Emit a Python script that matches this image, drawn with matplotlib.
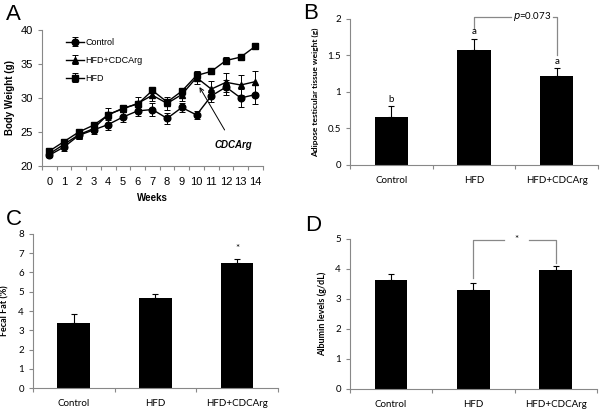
import matplotlib
matplotlib.use("Agg")
import matplotlib.pyplot as plt
import numpy as np

weeks = list(range(15))
control = [21.6, 22.8, 24.5, 25.3, 26.1, 27.2, 28.1, 28.3, 27.0, 28.6, 27.5, 30.3, 31.6, 30.0, 30.5]
control_err = [0.3, 0.6, 0.6, 0.6, 0.8, 0.8, 0.7, 1.0, 0.8, 0.7, 0.6, 0.9, 1.1, 1.3, 1.4]
hfd_cdcarg = [21.8, 23.2, 24.6, 25.5, 27.6, 28.4, 29.2, 30.4, 29.2, 30.5, 33.0, 31.3, 32.3, 31.9, 32.4]
hfd_cdcarg_err = [0.3, 0.5, 0.6, 0.5, 0.9, 0.5, 0.9, 0.9, 1.0, 0.9, 1.0, 1.2, 1.4, 1.5, 1.6]
hfd = [22.2, 23.6, 25.0, 26.0, 27.5, 28.5, 29.1, 31.1, 29.4, 31.0, 33.3, 33.9, 35.5, 36.0, 37.6]
hfd_err = [0.3, 0.3, 0.3, 0.3, 0.5, 0.4, 0.5, 0.4, 0.5, 0.5, 0.5, 0.4, 0.5, 0.4, 0.4]

groups = ["Control", "HFD", "HFD+CDCArg"]
adipose = [0.65, 1.57, 1.22]
adipose_err = [0.15, 0.155, 0.10]
adipose_letters = ["b", "a", "a"]
fecal = [3.39, 4.66, 6.51]
fecal_err = [0.44, 0.23, 0.17]
albumin = [3.63, 3.28, 3.95]
albumin_err = [0.21, 0.25, 0.13]

fig = plt.figure(figsize=(6.0, 4.09), dpi=100)
GRAY = "#888888"
BAR_FONT = "Lato"
LINE_FONT = "Liberation Sans"

def style_axes(ax):
    for s in ["top", "right"]:
        ax.spines[s].set_visible(False)
    for s in ["left", "bottom"]:
        ax.spines[s].set_color(GRAY)
        ax.spines[s].set_linewidth(0.8)
    ax.tick_params(axis="both", direction="out", color=GRAY, length=3, width=0.8)

# Panel A
axA = fig.add_axes([0.070, 0.594, 0.368, 0.333])
style_axes(axA)
kw = dict(color="black", lw=1.0, ms=4.8, capsize=2, elinewidth=0.7, capthick=0.7)
axA.errorbar(weeks, control, yerr=control_err, marker="o", label="Control", **kw)
axA.errorbar(weeks, hfd_cdcarg, yerr=hfd_cdcarg_err, marker="^", label="HFD+CDCArg", **kw)
axA.errorbar(weeks, hfd, yerr=hfd_err, marker="s", label="HFD", **kw)
axA.set_xlim(-0.5, 14.5)
axA.set_ylim(20, 40)
axA.set_yticks([20, 25, 30, 35, 40])
axA.set_xticks(weeks)
axA.set_xticks(np.arange(-0.5, 15, 1), minor=True)
axA.tick_params(axis="x", which="major", length=0, pad=8)
axA.tick_params(axis="x", which="minor", direction="out", color=GRAY, length=3, width=0.8)
for lab in axA.get_xticklabels() + axA.get_yticklabels():
    lab.set_fontfamily(LINE_FONT)
    lab.set_fontsize(8)
axA.set_xlabel("Weeks", fontsize=7, fontweight="bold", family=LINE_FONT, labelpad=4)
axA.set_ylabel("Body Weight (g)", fontsize=7, fontweight="bold", family=LINE_FONT, labelpad=4)
leg = axA.legend(loc="upper left", bbox_to_anchor=(0.07, 1.0), frameon=False,
                 prop={"family": LINE_FONT, "size": 6.5}, handlelength=2.0,
                 labelspacing=1.0, handletextpad=0.2)
axA.annotate("CDCArg", xy=(10.2, 31.6), xytext=(12.5, 23.1),
             fontsize=7, fontweight="bold", fontstyle="italic", family=LINE_FONT,
             ha="center", va="center",
             arrowprops=dict(arrowstyle="->", color="black", lw=0.7,
                             shrinkA=6, shrinkB=0))
fig.text(0.010, 0.99, "A", fontsize=16, family=LINE_FONT, va="top")

def bar_panel(rect, values, errs, ylim, yticks, ylabel, ticklabels_fmt=None, label_size=6.5):
    ax = fig.add_axes(rect)
    style_axes(ax)
    x = np.arange(len(groups))
    ax.bar(x, values, width=0.4, color="black", zorder=2)
    ax.errorbar(x, values, yerr=[np.zeros(len(errs)), errs], fmt="none",
                ecolor="black", elinewidth=0.8, capsize=2.2, capthick=0.8, zorder=3)
    ax.set_xlim(-0.5, 2.5)
    ax.set_ylim(*ylim)
    ax.set_yticks(yticks)
    if ticklabels_fmt is not None:
        ax.set_yticklabels(ticklabels_fmt)
    ax.set_xticks(x)
    ax.set_xticklabels(groups)
    ax.set_xticks([-0.5, 0.5, 1.5, 2.5], minor=True)
    ax.tick_params(axis="x", which="major", length=0, pad=8)
    ax.tick_params(axis="x", which="minor", direction="out", color=GRAY, length=3, width=0.8)
    for lab in ax.get_xticklabels() + ax.get_yticklabels():
        lab.set_fontfamily(BAR_FONT)
        lab.set_fontsize(7)
    ax.set_ylabel(ylabel, fontsize=label_size, fontweight="bold", family=BAR_FONT, labelpad=6)
    return ax

# Panel B
axB = bar_panel([0.583, 0.597, 0.414, 0.357], adipose, adipose_err, (0, 2),
                [0, 0.5, 1, 1.5, 2], "Adipose testicular tissue weight (g)",
                ["0", "0.5", "1", "1.5", "2"], label_size=6.0)
for i, (v, e, l) in enumerate(zip(adipose, adipose_err, adipose_letters)):
    axB.text(i, v + e + 0.04, l, ha="center", va="bottom", fontsize=7, family=BAR_FONT)
axB.plot([1, 1, 1.45], [1.86, 2.03, 2.03], color=GRAY, lw=0.9, clip_on=False)
axB.plot([1.95, 2.0, 2.0], [2.03, 2.03, 1.50], color=GRAY, lw=0.9, clip_on=False)
axB.text(1.70, 2.03, "$p$=0.073", ha="center", va="center", fontsize=7, family=BAR_FONT)
fig.text(0.506, 0.993, "B", fontsize=16, family=LINE_FONT, va="top")

# Panel C
axC = bar_panel([0.055, 0.051, 0.408, 0.377], fecal, fecal_err, (0, 8),
                list(range(9)), "Fecal Fat (%)")
axC.text(2, 7.0, "*", ha="center", va="bottom", fontsize=7, family=BAR_FONT)
fig.text(0.010, 0.49, "C", fontsize=16, family=LINE_FONT, va="top")

# Panel D
axD = bar_panel([0.583, 0.049, 0.412, 0.367], albumin, albumin_err, (0, 5),
                list(range(6)), "Albumin levels (g/dL)")
axD.plot([1, 1, 1.37], [3.69, 4.97, 4.97], color=GRAY, lw=0.9, clip_on=False)
axD.plot([1.68, 2.0, 2.0], [4.97, 4.97, 4.20], color=GRAY, lw=0.9, clip_on=False)
axD.text(1.52, 4.97, "*", ha="center", va="center", fontsize=7, family=BAR_FONT)
fig.text(0.508, 0.475, "D", fontsize=16, family=LINE_FONT, va="top")

fig.savefig("out.png", dpi=100)
